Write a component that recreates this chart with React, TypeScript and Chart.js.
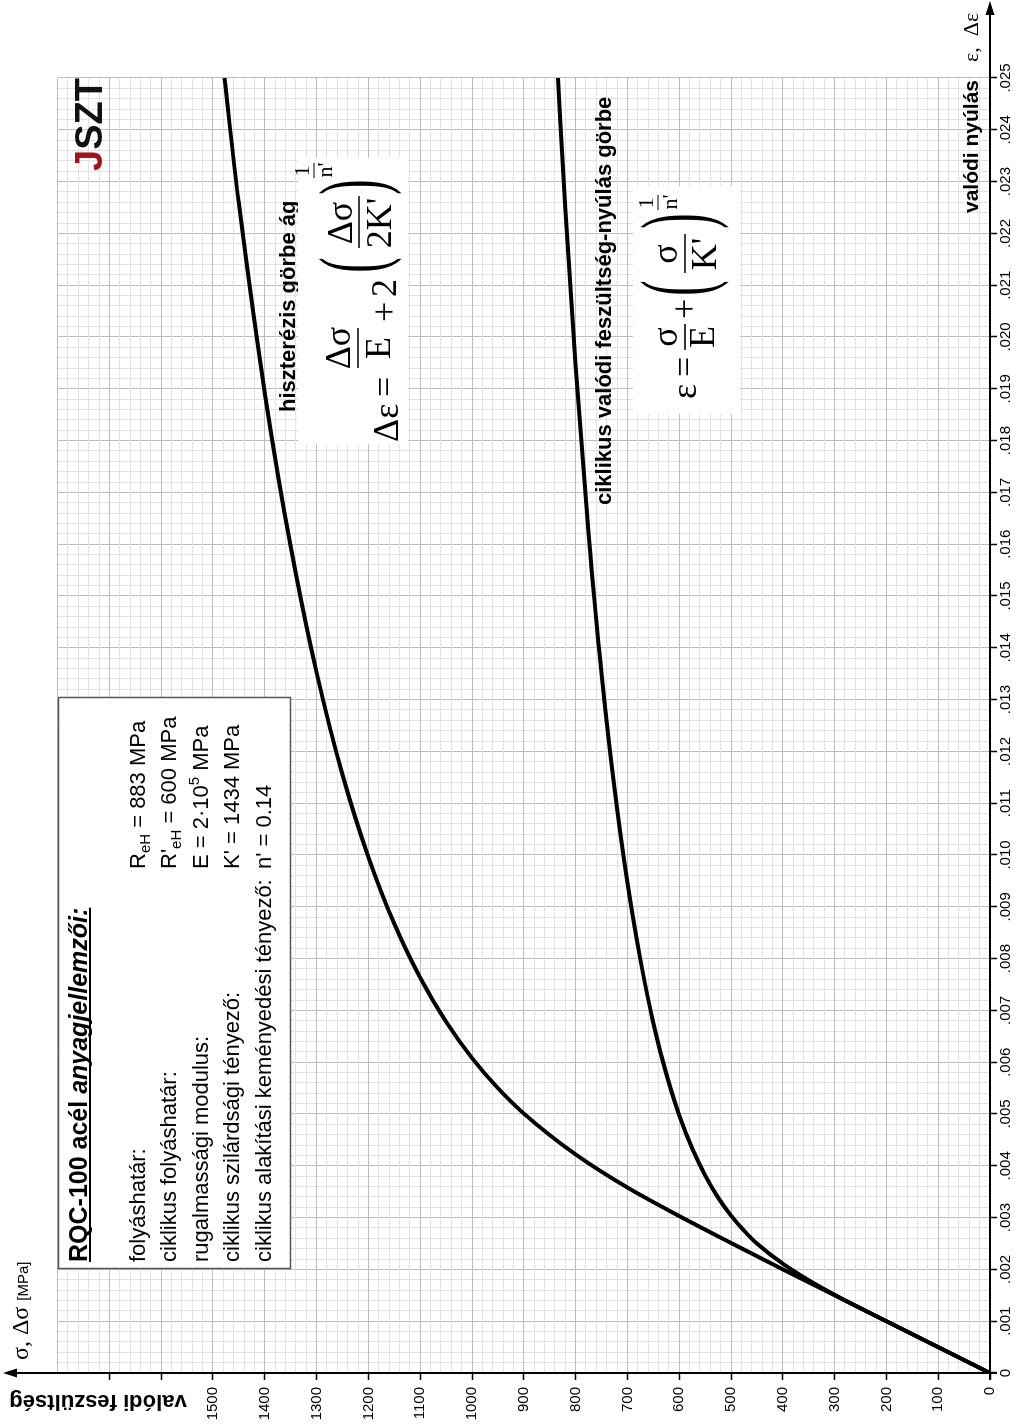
import React, { useEffect, useRef } from 'react';
import { Chart, registerables } from 'chart.js';

Chart.register(...registerables);

// Unrotated drawing size (the whole chart is shown turned 90° counter-clockwise)
const W = 1426;
const H = 1024;

// Cyclic true stress–strain curve: strain ε [-], stress σ [MPa]
const cyclicStrain = [0, 0.001, 0.00125, 0.00151, 0.00179, 0.00211, 0.0025, 0.00275, 0.00304, 0.00339, 0.00382, 0.00434, 0.00498, 0.00578, 0.00676, 0.00798, 0.00946, 0.01129, 0.01351, 0.01622, 0.01947, 0.0225, 0.025];
const cyclicStress = [0, 200, 250, 300, 350, 400, 450, 475, 500, 525, 550, 575, 600, 625, 650, 675, 700, 725, 750, 775, 800, 820, 834];

// Hysteresis curve branch: Δε [-], Δσ [MPa]
const hystStrain = [0, 0.002, 0.00251, 0.00303, 0.00358, 0.00422, 0.00501, 0.0055, 0.00608, 0.00678, 0.00763, 0.00867, 0.00996, 0.01155, 0.01352, 0.01595, 0.01892, 0.02257, 0.025];
const hystStress = [0, 400, 500, 600, 700, 800, 900, 950, 1000, 1050, 1100, 1150, 1200, 1250, 1300, 1350, 1400, 1450, 1478];

// Tick labels
const strainTickLabels = ['0', '.001', '.002', '.003', '.004', '.005', '.006', '.007', '.008', '.009', '.010', '.011', '.012', '.013', '.014', '.015', '.016', '.017', '.018', '.019', '.020', '.021', '.022', '.023', '.024', '.025'];
const stressTickLabels = ['0', '100', '200', '300', '400', '500', '600', '700', '800', '900', '1000', '1100', '1200', '1300', '1400', '1500'];

// Material data box
const materialTitle = 'RQC-100 acél ';
const materialTitleItalic = 'anyagjellemzői:';
const materialNames = ['folyáshatár:', 'ciklikus folyáshatár:', 'rugalmassági modulus:', 'ciklikus szilárdsági tényező:', 'ciklikus alakítási keményedési tényező:'];

const SANS = "'Liberation Sans', Arial, sans-serif";
const SERIF = "'Liberation Serif', 'Times New Roman', serif";

type Run = [string, string, number];

function drawRuns(ctx: CanvasRenderingContext2D, x: number, y: number, parts: Run[]) {
  let cx = x;
  ctx.textAlign = 'left';
  ctx.textBaseline = 'alphabetic';
  for (const [t, font, dy] of parts) {
    ctx.font = font;
    ctx.fillText(t, cx, y + dy);
    cx += ctx.measureText(t).width;
  }
  return cx;
}

function txt(ctx: CanvasRenderingContext2D, s: string, u: number, v: number, font: string, align: CanvasTextAlign = 'left') {
  ctx.font = font;
  ctx.textAlign = align;
  ctx.textBaseline = 'alphabetic';
  ctx.fillText(s, u, v);
}

function hline(ctx: CanvasRenderingContext2D, u1: number, u2: number, v: number, w: number) {
  ctx.lineWidth = w;
  ctx.beginPath();
  ctx.moveTo(u1, v);
  ctx.lineTo(u2, v);
  ctx.stroke();
}

function bigParen(ctx: CanvasRenderingContext2D, ch: string, cu: number, top: number, bottom: number) {
  ctx.save();
  ctx.font = `40px ${SERIF}`;
  ctx.textAlign = 'center';
  ctx.textBaseline = 'alphabetic';
  const m = ctx.measureText(ch);
  const asc = m.actualBoundingBoxAscent;
  const h = asc + m.actualBoundingBoxDescent;
  const s = (bottom - top) / h;
  ctx.translate(cu, top);
  ctx.scale(1.15, s);
  ctx.fillText(ch, 0, asc);
  ctx.restore();
}

const decorPlugin = {
  id: 'decor',
  afterDraw(chart: any) {
    const ctx: CanvasRenderingContext2D = chart.ctx;
    const { left, bottom } = chart.chartArea;
    ctx.save();
    ctx.fillStyle = '#000';
    ctx.strokeStyle = '#000';

    // axis lines with arrows
    ctx.lineWidth = 2;
    ctx.beginPath();
    ctx.moveTo(left - 7, bottom);
    ctx.lineTo(W - 12, bottom);
    ctx.stroke();
    ctx.beginPath();
    ctx.moveTo(W - 1, bottom);
    ctx.lineTo(W - 15, bottom - 4.5);
    ctx.lineTo(W - 15, bottom + 4.5);
    ctx.closePath();
    ctx.fill();

    ctx.beginPath();
    ctx.moveTo(left, bottom + 7);
    ctx.lineTo(left, 14);
    ctx.stroke();
    ctx.beginPath();
    ctx.moveTo(left, 3);
    ctx.lineTo(left - 4.5, 17);
    ctx.lineTo(left + 4.5, 17);
    ctx.closePath();
    ctx.fill();

    // axis titles
    txt(ctx, 'valódi nyúlás', 1346, 978, `bold 21px ${SANS}`, 'right');
    txt(ctx, 'ε,  Δε', 1364, 978, `22px ${SERIF}`, 'left');
    const e = drawRuns(ctx, 66, 28, [['σ, Δσ ', `24px ${SERIF}`, 0]]);
    drawRuns(ctx, e, 28, [['[MPa]', `15px ${SANS}`, 0]]);

    ctx.save();
    ctx.translate(31, 98);
    ctx.rotate(-Math.PI / 2);
    txt(ctx, 'valódi feszültség', 0, 0, `bold 22px ${SANS}`, 'center');
    ctx.restore();

    // logo
    ctx.font = `bold 38px ${SANS}`;
    const wSZT = ctx.measureText('SZT').width;
    const wJ = ctx.measureText('J').width;
    ctx.fillStyle = '#a0141c';
    txt(ctx, 'J', 1348 - wSZT - wJ, 102, `bold 38px ${SANS}`);
    ctx.fillStyle = '#111';
    txt(ctx, 'SZT', 1348 - wSZT, 102, `bold 38px ${SANS}`);
    ctx.fillStyle = '#000';

    // material box
    ctx.fillStyle = '#fff';
    ctx.fillRect(157, 58, 571, 232);
    ctx.strokeStyle = '#555';
    ctx.lineWidth = 1.5;
    ctx.strokeRect(157.5, 58.5, 571, 232);
    ctx.fillStyle = '#000';
    ctx.strokeStyle = '#000';
    const tEnd = drawRuns(ctx, 164, 87, [
      [materialTitle, `bold 25px ${SANS}`, 0],
      [materialTitleItalic, `italic bold 25px ${SANS}`, 0],
    ]);
    hline(ctx, 164, tEnd, 90, 2);

    const base = [145, 176, 208, 239, 271];
    const F = `22px ${SANS}`;
    const fs = `15px ${SANS}`;
    materialNames.forEach((n, i) => txt(ctx, n, 164, base[i], F));
    const c2 = 557;
    drawRuns(ctx, c2, base[0], [['R', F, 0], ['eH', fs, 5], [' = 883 MPa', F, 0]]);
    drawRuns(ctx, c2, base[1], [["R'", F, 0], ['eH', fs, 5], [' = 600 MPa', F, 0]]);
    drawRuns(ctx, c2, base[2], [['E = 2·10', F, 0], ['5', fs, -9], [' MPa', F, 0]]);
    drawRuns(ctx, c2, base[3], [["K' = 1434 MPa", F, 0]]);
    drawRuns(ctx, c2, base[4], [["n' = 0.14", F, 0]]);

    // curve labels
    txt(ctx, 'hiszterézis görbe ág', 1014, 295, `bold 22px ${SANS}`);
    txt(ctx, 'ciklikus valódi feszültség-nyúlás görbe', 921, 611, `bold 22px ${SANS}`);

    // formula boxes
    const MF = `36px ${SERIF}`;
    const sf = `22px ${SERIF}`;
    ctx.fillStyle = '#fff';
    ctx.fillRect(982, 298, 286, 110);
    ctx.fillRect(1012, 633, 228, 107);
    ctx.fillStyle = '#000';

    // Δε = Δσ/E + 2(Δσ/2K')^(1/n')
    txt(ctx, 'Δε', 984, 398, MF);
    txt(ctx, '=', 1029, 396, MF);
    txt(ctx, 'Δσ', 1078, 350, MF, 'center');
    hline(ctx, 1058, 1098, 358, 1.6);
    txt(ctx, 'E', 1078, 390, MF, 'center');
    txt(ctx, '+', 1104, 396, MF);
    txt(ctx, '2', 1129, 396, MF);
    bigParen(ctx, '(', 1161, 318, 403);
    txt(ctx, 'Δσ', 1203, 352, MF, 'center');
    hline(ctx, 1178, 1230, 359, 1.6);
    txt(ctx, "2K'", 1203, 391, MF, 'center');
    bigParen(ctx, ')', 1239, 318, 403);
    txt(ctx, '1', 1255, 309, sf, 'center');
    hline(ctx, 1248, 1263, 314, 1);
    txt(ctx, "n'", 1256, 332, sf, 'center');

    // ε = σ/E + (σ/K')^(1/n')
    txt(ctx, 'ε', 1027, 696, MF);
    txt(ctx, '=', 1049, 696, MF);
    txt(ctx, 'σ', 1089, 677, MF, 'center');
    hline(ctx, 1076, 1102, 685, 1.6);
    txt(ctx, 'E', 1089, 714, MF, 'center');
    txt(ctx, '+', 1107, 696, MF);
    bigParen(ctx, '(', 1138, 640, 730);
    txt(ctx, 'σ', 1172, 677, MF, 'center');
    hline(ctx, 1153, 1192, 685, 1.6);
    txt(ctx, "K'", 1172, 716, MF, 'center');
    bigParen(ctx, ')', 1205, 640, 730);
    txt(ctx, '1', 1223, 653, sf, 'center');
    hline(ctx, 1216, 1231, 658, 1);
    txt(ctx, "n'", 1224, 677, sf, 'center');

    ctx.restore();
  },
};

const MAJOR = '#bdbdbd';
const MINOR = '#e2e2e2';

export default function App() {
  const ref = useRef<HTMLCanvasElement>(null);

  useEffect(() => {
    document.documentElement.style.overflow = 'hidden';
    document.body.style.overflow = 'hidden';
    const canvas = ref.current;
    if (!canvas) return;
    const chart = new Chart(canvas, {
      type: 'scatter',
      data: {
        datasets: [
          {
            label: 'ciklikus',
            data: cyclicStrain.map((x, i) => ({ x, y: cyclicStress[i] })),
            showLine: true,
            borderColor: '#000',
            borderWidth: 4,
            pointRadius: 0,
            cubicInterpolationMode: 'monotone',
          },
          {
            label: 'hiszterézis',
            data: hystStrain.map((x, i) => ({ x, y: hystStress[i] })),
            showLine: true,
            borderColor: '#000',
            borderWidth: 4,
            pointRadius: 0,
            cubicInterpolationMode: 'monotone',
          },
        ],
      },
      options: {
        responsive: false,
        animation: false,
        devicePixelRatio: 1,
        layout: { padding: { left: 0, top: 57.6, right: 78, bottom: 0 } },
        plugins: { legend: { display: false }, tooltip: { enabled: false } },
        scales: {
          x: {
            type: 'linear',
            min: 0,
            max: 0.025,
            afterFit: (s: any) => { s.height = 34; },
            border: { display: false },
            grid: {
              color: (c: any) => (c.tick && Math.round(c.tick.value * 10000) % 10 === 0 ? MAJOR : MINOR),
              tickColor: (c: any) => (c.tick && Math.round(c.tick.value * 10000) % 10 === 0 ? '#000' : 'rgba(0,0,0,0)'),
              tickLength: 7,
              tickWidth: 1.5,
              lineWidth: 1,
            },
            ticks: {
              stepSize: 0.0002,
              autoSkip: false,
              maxRotation: 0,
              padding: 0,
              color: '#000',
              font: { family: SANS, size: 15 },
              callback: (v: any) => {
                const k = Math.round(Number(v) * 10000);
                if (k % 10 !== 0) return '';
                return strainTickLabels[k / 10] ?? '';
              },
            },
          },
          y: {
            type: 'linear',
            min: 0,
            max: 1800,
            afterFit: (s: any) => { s.width = 53; },
            border: { display: false },
            grid: {
              color: (c: any) => (c.tick && Math.round(c.tick.value) % 100 === 0 ? MAJOR : MINOR),
              tickColor: (c: any) => (c.tick && Math.round(c.tick.value) % 100 === 0 && c.tick.value < 1800 ? '#000' : 'rgba(0,0,0,0)'),
              tickLength: 7,
              tickWidth: 1.5,
              lineWidth: 1,
            },
            ticks: {
              stepSize: 20,
              autoSkip: false,
              padding: 7,
              color: '#000',
              font: { family: SANS, size: 15 },
              callback: (v: any) => {
                const n = Math.round(Number(v));
                if (n % 100 !== 0) return '';
                return stressTickLabels[n / 100] ?? '';
              },
            },
          },
        },
      },
      plugins: [decorPlugin],
    } as any);
    return () => chart.destroy();
  }, []);

  return (
    <div
      style={{
        position: 'absolute',
        left: 0,
        top: 0,
        width: W,
        height: H,
        transformOrigin: '0 0',
        transform: `translateY(${W}px) rotate(-90deg)`,
        background: '#fff',
      }}
    >
      <canvas ref={ref} width={W} height={H} style={{ display: 'block' }} />
    </div>
  );
}
